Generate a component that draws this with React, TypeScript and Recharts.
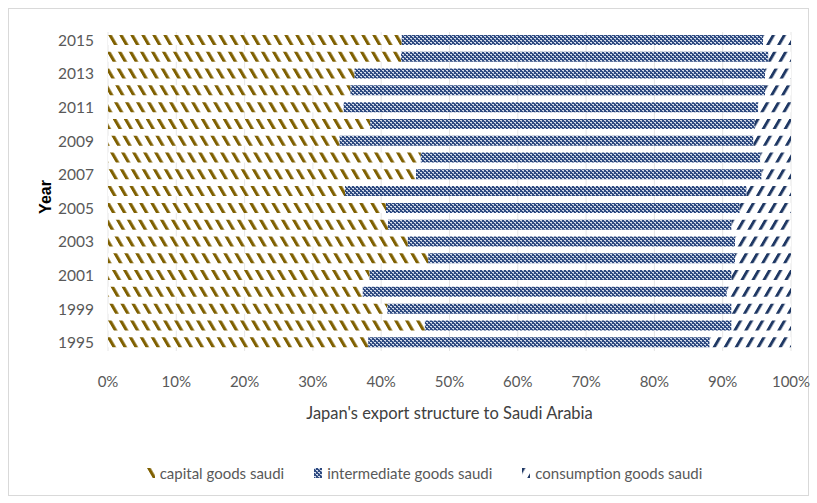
import React from "react";
import {
  BarChart,
  Bar,
  XAxis,
  YAxis,
  CartesianGrid
} from "recharts";

const years = [
  "1995", "1998", "1999", "2000", "2001", "2002", "2003", "2004", "2005", "2006",
  "2007", "2008", "2009", "2010", "2011", "2012", "2013", "2014", "2015"
];
const capitalGoods = [
  38.1, 46.4, 40.9, 37.3, 38.3, 46.9, 43.9, 41.0, 40.7, 34.7,
  45.1, 45.8, 33.9, 38.4, 34.5, 35.5, 36.1, 42.9, 43.0
];
const intermediateGoods = [
  50.0, 44.9, 50.4, 53.3, 53.0, 44.9, 47.9, 50.3, 51.8, 58.8,
  50.6, 49.7, 60.6, 56.3, 60.7, 60.7, 60.1, 53.8, 52.9
];
const consumptionGoods = [
  11.9, 8.7, 8.7, 9.4, 8.7, 8.2, 8.2, 8.7, 7.5, 6.5,
  4.3, 4.5, 5.5, 5.3, 4.8, 3.8, 3.8, 3.3, 4.1
];
const xTicks = [0, 0.1, 0.2, 0.3, 0.4, 0.5, 0.6, 0.7, 0.8, 0.9, 1];

const data = years.map((year, i) => ({
  year,
  capital: capitalGoods[i],
  intermediate: intermediateGoods[i],
  consumption: consumptionGoods[i]
}));

const FONT = "Lato, 'Open Sans', sans-serif";

const legendItems = [
  { name: "capital goods saudi", fill: "url(#capPat)" },
  { name: "intermediate goods saudi", fill: "url(#midPat)" },
  { name: "consumption goods saudi", fill: "url(#conPat)" }
];

const LegendContent = () => (
  <div
    style={{
      display: "flex",
      justifyContent: "center",
      gap: 30,
      fontFamily: FONT,
      fontSize: 15,
      color: "#595959"
    }}
  >
    {legendItems.map((item) => (
      <div key={item.name} style={{ display: "flex", alignItems: "center" }}>
        <svg width="8" height="10" style={{ marginRight: 5 }}>
          <rect width="8" height="10" fill={item.fill} />
        </svg>
        <span>{item.name}</span>
      </div>
    ))}
  </div>
);

export default function App() {
  return (
    <div
      style={{
        position: "absolute",
        left: 0,
        top: 0,
        width: 817,
        height: 503,
        background: "#fff"
      }}
    >
      {/* patterns */}
      <svg width="0" height="0" style={{ position: "absolute" }}>
        <defs>
          <pattern
            id="capPat"
            width="11"
            height="11"
            patternUnits="userSpaceOnUse"
            patternTransform="skewX(30)"
          >
            <rect width="11" height="11" fill="#fff" />
            <rect x="0" width="3.6" height="11" fill="#7f6000" />
          </pattern>
          <pattern
            id="conPat"
            width="11"
            height="11"
            patternUnits="userSpaceOnUse"
            patternTransform="skewX(-30)"
          >
            <rect width="11" height="11" fill="#fff" />
            <rect x="0" width="3.4" height="11" fill="#1f3864" />
          </pattern>
          <pattern id="midPat" width="4" height="4" patternUnits="userSpaceOnUse">
            <rect width="4" height="4" fill="#2e4a80" />
            <rect x="0" y="0" width="2" height="1" fill="#d6deec" />
            <rect x="2" y="2" width="2" height="1" fill="#d6deec" />
            <rect x="1" y="1" width="1" height="1" fill="#9aa9c8" />
            <rect x="3" y="3" width="1" height="1" fill="#9aa9c8" />
          </pattern>
        </defs>
      </svg>

      {/* chart frame */}
      <div
        style={{
          position: "absolute",
          left: 8,
          top: 8,
          width: 799,
          height: 486,
          border: "1px solid #d9d9d9"
        }}
      />

      <div style={{ position: "absolute", left: 0, top: 0 }}>
        <BarChart
          width={817}
          height={503}
          data={data}
          layout="vertical"
          stackOffset="expand"
          barSize={10}
          margin={{ top: 32, right: 26, bottom: 122, left: 0 }}
        >
          {/* Grid */}
          <CartesianGrid horizontal={false} stroke="#e6e6e6" />

          {/* X Axis */}
          <XAxis
            type="number"
            domain={[0, 1]}
            ticks={xTicks}
            tickFormatter={(v: number) => `${Math.round(v * 100)}%`}
            axisLine={false}
            tickLine={false}
            tickSize={0}
            tickMargin={25}
            height={30}
            tick={{ fill: "#595959", fontSize: 15, fontFamily: FONT }}
            label={{
              value: "Japan's export structure to Saudi Arabia",
              position: "bottom",
              offset: 26,
              fill: "#404040",
              fontSize: 16.5,
              fontFamily: FONT
            }}
          />

          {/* Y Axis */}
          <YAxis
            type="category"
            dataKey="year"
            reversed
            interval={1}
            width={108}
            axisLine={false}
            tickLine={false}
            tickSize={0}
            tickMargin={14}
            tick={{ fill: "#595959", fontSize: 15.5, fontFamily: FONT }}
          />

          {/* Bars */}
          <Bar dataKey="capital" stackId="a" fill="url(#capPat)" isAnimationActive={false} />
          <Bar dataKey="intermediate" stackId="a" fill="url(#midPat)" isAnimationActive={false} />
          <Bar dataKey="consumption" stackId="a" fill="url(#conPat)" isAnimationActive={false} />
        </BarChart>
      </div>

      {/* legend */}
      <div style={{ position: "absolute", left: 0, top: 464, width: 849 }}>
        <LegendContent />
      </div>

      {/* rotated Year label */}
      <svg
        width="60"
        height="300"
        style={{ position: "absolute", left: 0, top: 0, pointerEvents: "none" }}
      >
        <text
          x={45}
          y={197}
          transform="rotate(-90 45 197)"
          textAnchor="middle"
          dominantBaseline="central"
          fontFamily="'Liberation Sans', Arial, sans-serif"
          fontWeight="bold"
          fontSize={16}
          fill="#000"
        >
          Year
        </text>
      </svg>
    </div>
  );
}
